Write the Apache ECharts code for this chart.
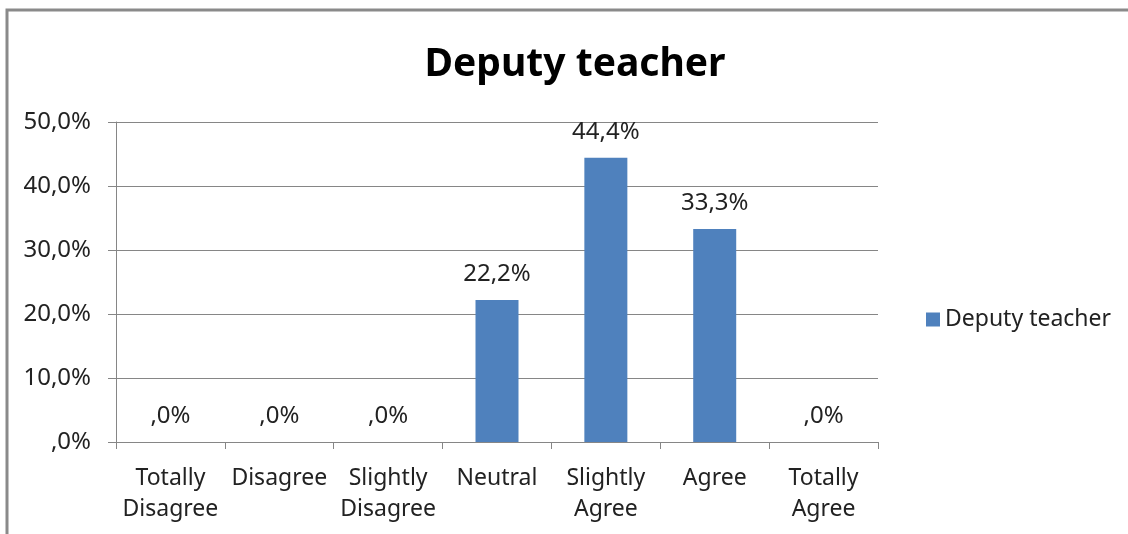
<!DOCTYPE html>
<html><head><meta charset="utf-8">
<script src="https://cdn.jsdelivr.net/npm/echarts@6/dist/echarts.min.js"></script>
<style>html,body{margin:0;padding:0;background:#fff}#c{width:1128px;height:534px}</style>
</head><body><div id="c"></div>
<script>
const categories = ['Totally\nDisagree','Disagree','Slightly\nDisagree','Neutral','Slightly\nAgree','Agree','Totally\nAgree'];
const values = [0, 0, 0, 22.2, 44.4, 33.3, 0];
const seriesName = 'Deputy teacher';
const titleText = 'Deputy teacher';

function fmt(v){
  let s = Number(v).toFixed(1).replace('.', ',');
  if (s.startsWith('0,')) s = s.slice(1);
  return s + '%';
}
const FONT = '"Noto Sans", sans-serif';
const chart = echarts.init(document.getElementById('c'));
chart.setOption({
  animation:false,
  backgroundColor:'#fff',
  title:{text:titleText,left:570,top:40,textAlign:'center',textStyle:{fontFamily:FONT,fontWeight:'bold',fontSize:39,color:'#000'}},
  legend:{data:[seriesName],left:921,top:303,itemWidth:14,itemHeight:14,itemGap:6,icon:'rect',
    textStyle:{fontFamily:FONT,fontSize:23,color:'#222'}},
  grid:{left:116,right:250,top:122,bottom:92,containLabel:false},
  xAxis:{type:'category',data:categories,
    axisLine:{lineStyle:{color:'#868686',width:1}},
    axisTick:{show:true,length:7,lineStyle:{color:'#868686'}},
    axisLabel:{fontFamily:FONT,fontSize:23,color:'#222',margin:21,lineHeight:31,interval:0}},
  yAxis:{type:'value',min:0,max:50,interval:10,
    axisLine:{show:true,lineStyle:{color:'#868686'}},
    axisTick:{show:true,length:8,inside:false,lineStyle:{color:'#868686'}},
    splitLine:{lineStyle:{color:'#868686'}},
    axisLabel:{fontFamily:FONT,fontSize:24,color:'#222',margin:25,formatter:fmt}},
  series:[{name:seriesName,type:'bar',data:values,barWidth:43,
    itemStyle:{color:'#4F81BD'},
    label:{show:true,position:'top',distance:14,fontFamily:FONT,fontSize:24,color:'#222',formatter:p=>fmt(p.value)}}],
  graphic:[{type:'rect',shape:{x:7,y:10,width:1200,height:600},style:{fill:'none',stroke:'#8a8a8a',lineWidth:3},silent:true,z:100}]
});
</script></body></html>
